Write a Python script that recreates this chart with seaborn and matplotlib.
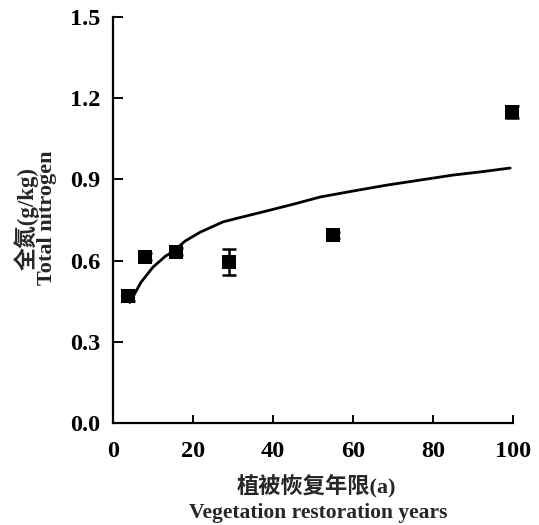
import matplotlib
matplotlib.use("Agg")
import matplotlib.pyplot as plt
import seaborn as sns
import pandas as pd

# Measured total nitrogen by restoration age
years = [3.8, 8, 15.8, 29, 55, 99.7]
nitrogen = [0.47, 0.615, 0.633, 0.595, 0.695, 1.15]
nitrogen_err = [0.02, 0.012, 0.012, 0.048, 0.01, 0.022]

# Fitted trend line
fit_years = [4.2, 7, 10, 13, 15.5, 18, 21.8, 27.5, 32, 37.5, 45, 51.8, 60, 68.5, 77, 85, 92, 99.3]
fit_nitrogen = [0.445, 0.52, 0.576, 0.615, 0.639, 0.672, 0.705, 0.743, 0.76, 0.78, 0.808, 0.835, 0.857, 0.879, 0.898, 0.916, 0.928, 0.942]

x_ticks = [0, 20, 40, 60, 80, 100]
y_ticks = [0.0, 0.3, 0.6, 0.9, 1.2, 1.5]

x_label_cn = "植被恢复年限(a)"
x_label_en = "Vegetation restoration years"
y_label_cn = "全氮(g/kg)"
y_label_en = "Total nitrogen"

sns.set_theme(style="ticks")
plt.rcParams["font.family"] = ["Liberation Serif", "Noto Sans CJK SC"]
plt.rcParams["font.weight"] = "bold"

W, H = 539, 525
fig = plt.figure(figsize=(W / 100, H / 100), dpi=100)
ax = fig.add_axes([113 / W, 1 - 423 / H, 400 / W, 406 / H])

pts = pd.DataFrame({"years": years, "nitrogen": nitrogen})
fit = pd.DataFrame({"years": fit_years, "nitrogen": fit_nitrogen})

sns.lineplot(data=fit, x="years", y="nitrogen", ax=ax, color="black", lw=2.0, sort=True)
ax.errorbar(years, nitrogen, yerr=nitrogen_err, fmt="none", ecolor="black",
            elinewidth=1.8, capsize=5, capthick=1.8, clip_on=False, zorder=3)
sns.scatterplot(data=pts, x="years", y="nitrogen", ax=ax, marker="s", s=115,
                color="black", edgecolor="black", linewidth=0, clip_on=False, zorder=4)

ax.set_xlim(0, 100)
ax.set_ylim(0, 1.5)
ax.set_xticks(x_ticks)
ax.set_xticklabels([str(t) for t in x_ticks])
ax.set_yticks(y_ticks)
ax.set_yticklabels([f"{t:.1f}" for t in y_ticks])
ax.set_xlabel("")
ax.set_ylabel("")

sns.despine(ax=ax)
for s in ("left", "bottom"):
    ax.spines[s].set_linewidth(1.6)
    ax.spines[s].set_color("black")

ax.tick_params(axis="x", direction="in", length=6, width=1.4, pad=13, labelsize=17.5, colors="black")
ax.tick_params(axis="y", direction="in", length=7, width=1.4, pad=9, labelsize=17.5, colors="black")
for lab in ax.get_xticklabels() + ax.get_yticklabels():
    lab.set_fontweight("bold")

# Two-line bilingual axis titles
fig.text(316 / W, 1 - 486 / H, x_label_cn, fontsize=16, fontweight="bold",
         ha="center", va="center")
fig.text(318 / W, 1 - 513 / H, x_label_en, fontsize=15.5, fontweight="bold",
         ha="center", va="center")
fig.text(26 / W, 1 - 219 / H, y_label_cn, fontsize=16.5, fontweight="bold",
         ha="center", va="center", rotation=90)
fig.text(47 / W, 1 - 218 / H, y_label_en, fontsize=16, fontweight="bold",
         ha="center", va="center", rotation=90)

fig.savefig("out.png", dpi=100)
